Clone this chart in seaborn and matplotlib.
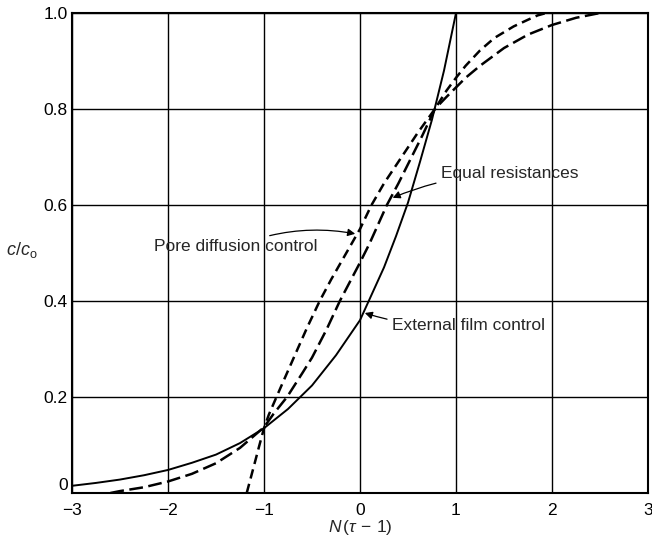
import matplotlib
matplotlib.use("Agg")
import numpy as np
import pandas as pd
import matplotlib.pyplot as plt
import seaborn as sns

# values
film_x = [-3.0, -2.75, -2.5, -2.25, -2.0, -1.75, -1.5, -1.25, -1.0, -0.75, -0.5, -0.25, 0.0,
          0.125, 0.25, 0.375, 0.5, 0.625, 0.75, 0.875, 1.0]
film_y = [0.015, 0.021, 0.028, 0.037, 0.048, 0.063, 0.08, 0.104, 0.135, 0.175, 0.224, 0.287,
          0.36, 0.415, 0.47, 0.535, 0.605, 0.69, 0.778, 0.88, 1.0]

equal_x = [-2.6, -2.5, -2.25, -2.0, -1.75, -1.5, -1.25, -1.0, -0.9, -0.76, -0.6, -0.5, -0.35,
           -0.21, 0.0, 0.1, 0.28, 0.4, 0.5, 0.65, 0.78, 0.9, 1.0, 1.1, 1.25, 1.5, 1.75, 2.0,
           2.25, 2.5]
equal_y = [0.0, 0.004, 0.012, 0.024, 0.04, 0.062, 0.094, 0.137, 0.165, 0.2, 0.25, 0.282, 0.34,
           0.4, 0.48, 0.52, 0.6, 0.645, 0.685, 0.745, 0.8, 0.825, 0.845, 0.865, 0.89, 0.927,
           0.955, 0.975, 0.99, 1.0]

pore_x = [-1.18, -1.1, -1.05, -1.0, -0.95, -0.87, -0.8, -0.65, -0.55, -0.42, -0.3, -0.2, -0.1,
          0.0, 0.12, 0.25, 0.4, 0.5, 0.6, 0.78, 0.9, 1.0, 1.1, 1.25, 1.4, 1.5, 1.6, 1.75, 1.85,
          1.94]
pore_y = [0.0, 0.06, 0.098, 0.135, 0.163, 0.2, 0.232, 0.3, 0.345, 0.4, 0.445, 0.48, 0.515,
          0.55, 0.6, 0.645, 0.69, 0.72, 0.75, 0.8, 0.838, 0.865, 0.89, 0.922, 0.948, 0.96,
          0.972, 0.986, 0.995, 1.0]

x_ticks = [-3, -2, -1, 0, 1, 2, 3]
x_labels = ["\u22123", "\u22122", "\u22121", "0", "1", "2", "3"]
y_ticks = [0, 0.2, 0.4, 0.6, 0.8, 1.0]
y_labels = ["0", "0.2", "0.4", "0.6", "0.8", "1.0"]

sns.set_style("white")
plt.rcParams['font.family'] = ['Liberation Sans', 'DejaVu Sans']
plt.rcParams['mathtext.fontset'] = 'custom'
plt.rcParams['mathtext.it'] = 'Liberation Sans:italic'
plt.rcParams['mathtext.rm'] = 'Liberation Sans'

fig, ax = plt.subplots(figsize=(6.52, 5.42), dpi=100)
fig.subplots_adjust(left=72 / 652, right=648 / 652, bottom=49 / 542, top=529 / 542)

sns.lineplot(x=film_x, y=film_y, ax=ax, color="black", linewidth=1.4)
sns.lineplot(x=equal_x, y=equal_y, ax=ax, color="black", linewidth=1.8,
             linestyle=(0, (5.5, 2.2)))
sns.lineplot(x=pore_x, y=pore_y, ax=ax, color="black", linewidth=1.8,
             linestyle=(0, (3.8, 2.2)))

ax.set_xlim(-3, 3)
ax.set_ylim(0, 1)
ax.set_xticks(x_ticks)
ax.set_xticklabels(x_labels)
ax.set_yticks(y_ticks)
ax.set_yticklabels(y_labels)
ax.tick_params(axis="both", labelsize=12.5, length=0, colors="black")
ax.tick_params(axis="x", pad=7)
ax.tick_params(axis="y", pad=3)
ax.get_yticklabels()[0].set_va("bottom")
ax.grid(True, color="black", linewidth=1.0)
for s in ax.spines.values():
    s.set_color("black")
    s.set_linewidth(1.5)

ax.set_xlabel(r"$N\,(\tau\,-\,1)$", fontsize=12.5, labelpad=0)
ax.text(-0.087, 0.506, r"$c/c_\mathrm{o}$", transform=ax.transAxes, fontsize=13,
        ha="center", va="center")

arrow = dict(arrowstyle="-|>", color="black", lw=0.9, mutation_scale=11,
             shrinkA=1, shrinkB=0)
ax.annotate("Equal resistances", xy=(0.34, 0.615), xytext=(0.84, 0.665),
            fontsize=12.5, va="center", ha="left",
            arrowprops=dict(arrow, connectionstyle="arc3,rad=0.1"))
ax.annotate("Pore diffusion control", xy=(-0.05, 0.54), xytext=(-0.44, 0.513),
            fontsize=12.5, va="center", ha="right",
            arrowprops=dict(arrow, connectionstyle="arc3,rad=-0.15"))
ax.annotate("External film control", xy=(0.05, 0.375), xytext=(0.33, 0.35),
            fontsize=12.5, va="center", ha="left",
            arrowprops=dict(arrow, connectionstyle="arc3,rad=-0.1"))

fig.savefig("out.png", dpi=100)
